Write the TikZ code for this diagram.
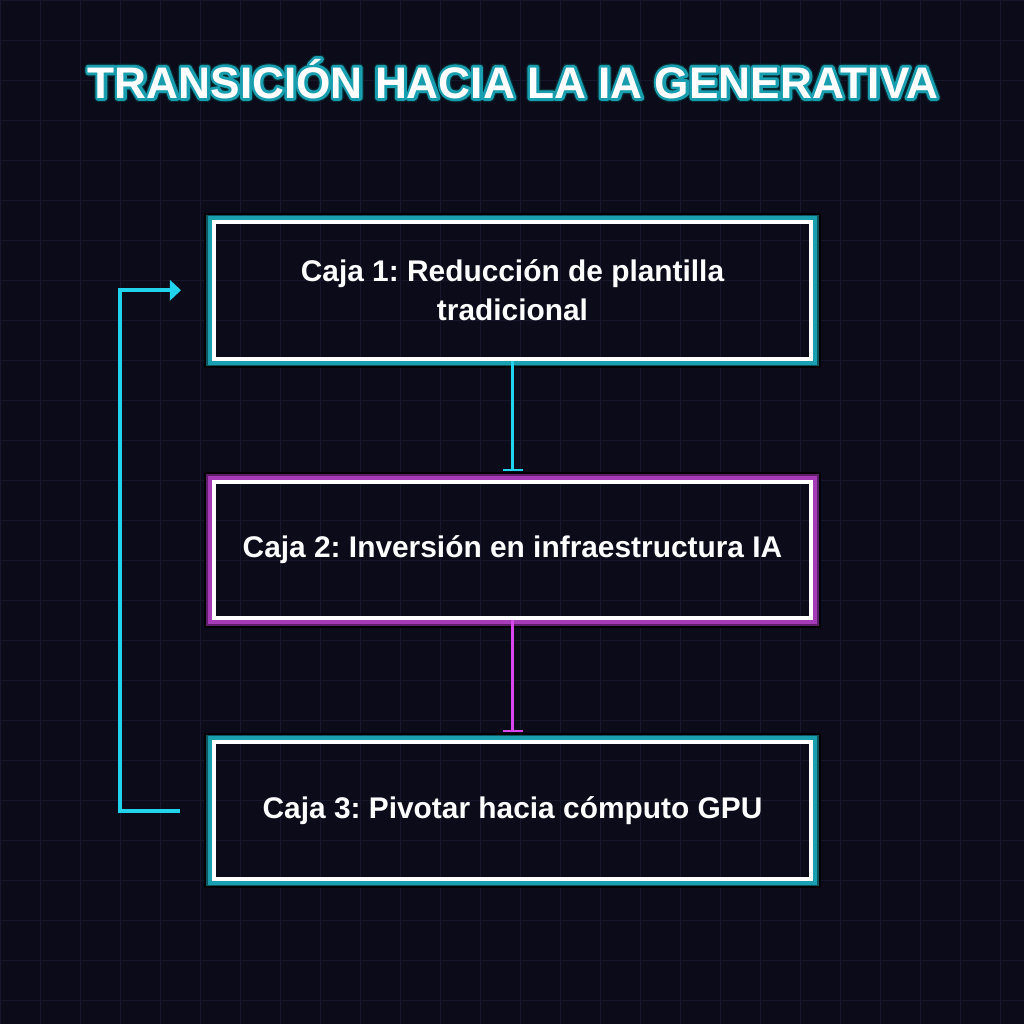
\documentclass[tikz,border=0pt]{standalone}
\usepackage{fontspec}
\setmainfont{Liberation Sans}
\usepackage{tikz}
\usepackage{xcolor}
\usetikzlibrary{arrows.meta}
\frenchspacing

\definecolor{bgnight}{HTML}{0B0B1A}
\definecolor{gridnight}{HTML}{17172B}
\definecolor{neoncyan}{HTML}{22D3EE}
\definecolor{neonpink}{HTML}{D946EF}
\definecolor{tealglow}{HTML}{1A9FB0}
\definecolor{tealdeep}{HTML}{0E5560}
\definecolor{plumglow}{HTML}{A63BB8}
\definecolor{plumdeep}{HTML}{5E1E6A}

% stroked-only text for the neon halo of the title
\newcommand{\neonstroke}[3]{\special{pdf:literal direct 1 Tr 1 j #1 w #2 RG}#3\special{pdf:literal direct 0 Tr}}

\begin{document}
\begin{tikzpicture}[x=0.2mm, y=-0.2mm,
    cajanode/.style={rectangle, draw=white, line width=0.8mm, minimum width=119.4mm, minimum height=27.3mm, text=white, align=center, font=\bfseries\fontsize{17}{22}\selectfont},
    titletext/.style={anchor=base, inner sep=0pt, text=white, font=\bfseries\fontsize{25.15}{28}\selectfont}]
        \useasboundingbox (0,0) rectangle (1024,1024);
        \fill[bgnight] (0,0) rectangle (1024,1024);
        \foreach \g in {0,40,...,1000} {
            \draw[gridnight, line width=0.2mm] (\g,0) -- (\g,1024);
            \draw[gridnight, line width=0.2mm] (0,\g) -- (1024,\g);
        }

        \node[titletext] (titlehalo) at (513,98) {\neonstroke{4.6}{0.03 0.16 0.19}{TRANSICIÓN HACIA LA IA GENERATIVA}};
        \node[titletext] (titleglow) at (513,98) {\neonstroke{3.2}{0.10 0.62 0.69}{TRANSICIÓN HACIA LA IA GENERATIVA}};
        \node[titletext] (title) at (513,98) {TRANSICIÓN HACIA LA IA GENERATIVA};

        \node[cajanode] (caja1) at (512.5,290.25) {Caja 1: Reducción de plantilla\\tradicional};
        \node[cajanode] (caja2) at (512.5,549.75) {Caja 2: Inversión en infraestructura IA};
        \node[cajanode] (caja3) at (512.5,810.5) {Caja 3: Pivotar hacia cómputo GPU};

        \foreach \b/\g/\d in {caja1/tealglow/tealdeep, caja2/plumglow/plumdeep, caja3/tealglow/tealdeep}
            \foreach \w/\c in {7.5/black, 5.5/\d, 4/\g}
                \draw[\c, line width=\w*0.2mm] ([shift={(-\w/2,-\w/2)}]\b.north west) rectangle ([shift={(\w/2,\w/2)}]\b.south east);

        \tikzset{flowline/.style={line width=0.75mm, shorten >=1.7mm, -{Bar[width=4mm, line width=0.4mm]}}}
        \tikzset{feedline/.style={line width=0.8mm, neoncyan, -{Triangle[length=2.2mm, width=4mm]}}}

        \draw[flowline, neoncyan] (caja1.south) -- (caja2.north);
        \draw[flowline, neonpink] (caja2.south) -- (caja3.north);
        \draw[feedline] ([xshift=-6.4mm]caja3.west) -- ++(-12mm,0) |- ([xshift=-6.2mm]caja1.west);

    \end{tikzpicture}
\end{document}
